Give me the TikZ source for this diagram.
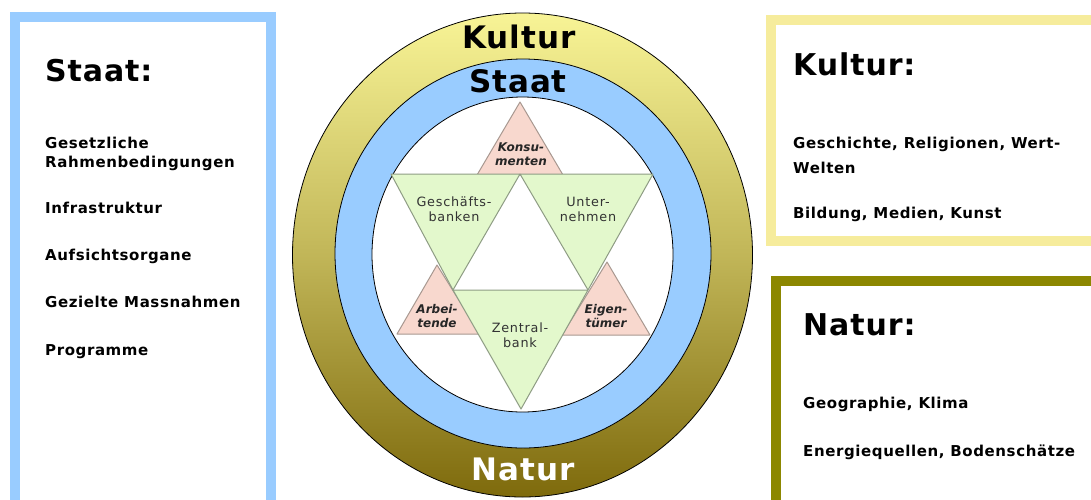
\documentclass[tikz,border=0pt]{standalone}
\usepackage{fontspec}
\setmainfont{DejaVu Sans}
\definecolor{staatblue}{HTML}{99CCFF}
\definecolor{kulturgelb}{HTML}{F6EC9C}
\definecolor{naturoliv}{HTML}{8C8700}
\definecolor{ringtop}{HTML}{F8F496}
\definecolor{ringbot}{HTML}{7E6A0C}
\definecolor{gruen}{HTML}{E3F8CC}
\definecolor{gruenrand}{HTML}{8E9C84}
\definecolor{rosa}{HTML}{F8D8CE}
\definecolor{rosarand}{HTML}{A89890}
\definecolor{dunkel}{HTML}{333333}
\tikzset{
  frame/.style={line width=10pt},
  title/.style={anchor=base west, inner sep=0pt,
    font=\bfseries\fontsize{30}{34}\selectfont\addfontfeature{LetterSpace=3}},
  item/.style={anchor=base west, inner sep=0pt,
    font=\bfseries\fontsize{15}{18}\selectfont\addfontfeature{LetterSpace=4}},
  ring/.style={anchor=base, inner sep=0pt,
    font=\bfseries\fontsize{31}{34}\selectfont\addfontfeature{LetterSpace=3}},
  greentri/.style={fill=gruen, draw=gruenrand, line width=1pt, line join=round},
  pinktri/.style={fill=rosa, draw=rosarand, line width=1pt, line join=round},
  gtext/.style={align=center, inner sep=0pt, text=dunkel,
    font=\fontsize{12.8}{15}\selectfont\addfontfeature{LetterSpace=6}},
  ptext/.style={align=center, inner sep=0pt, text=black!85,
    font=\bfseries\itshape\fontsize{12}{13.5}\selectfont},
}
\begin{document}
\begin{tikzpicture}[x=1pt,y=-1pt]
\clip (0,0) rectangle (1091,499);
\fill[white] (0,0) rectangle (1091,499);

% side frames
\draw[frame, staatblue] (15,520) -- (15,17) -- (270.5,17) -- (270.5,520);
\draw[frame, kulturgelb] (1110,20) -- (771,20) -- (771,241) -- (1110,241);
\draw[frame, naturoliv] (1110,281) -- (776,281) -- (776,520);

% Staat box
\node[title] (st) at (45,81) {Staat:};
\node[item] (st1a) at (45,148) {Gesetzliche};
\node[item] (st1b) at (45,167.5) {Rahmenbedingungen};
\node[item] (st2) at (45,213) {Infrastruktur};
\node[item] (st3) at (45,260) {Aufsichtsorgane};
\node[item] (st4) at (45,307.5) {Gezielte Massnahmen};
\node[item] (st5) at (45,355) {Programme};

% Kultur box
\node[title] (ku) at (793,75) {Kultur:};
\node[item] (ku1a) at (793,148) {Geschichte, Religionen, Wert-};
\node[item] (ku1b) at (793,173) {Welten};
\node[item] (ku2) at (793,218) {Bildung, Medien, Kunst};

% Natur box
\node[title] (na) at (803,335) {Natur:};
\node[item] (na1) at (803,408) {Geographie, Klima};
\node[item] (na2) at (803,456) {Energiequellen, Bodenschätze};

% nested rings
\shade[top color=ringtop, bottom color=ringbot, middle color=ringtop!55!ringbot]
  (522.5,255) ellipse [x radius=230, y radius=242];
\draw[black, line width=0.8pt] (522.5,255) ellipse [x radius=230, y radius=242];
\filldraw[fill=staatblue, draw=black, line width=0.8pt] (523,253.5) ellipse [x radius=188, y radius=194.5];
\filldraw[fill=white, draw=black, line width=0.8pt] (522.5,254.5) ellipse [x radius=150.5, y radius=157.5];

\node[ring] (rk) at (519,48) {Kultur};
\node[ring] (rs) at (518,92) {Staat};
\node[ring, text=white] (rn) at (523,480) {Natur};

% star vertices
\coordinate (a) at (391,174);
\coordinate (b) at (520,174);
\coordinate (c) at (653,174);
\coordinate (d) at (453,290);
\coordinate (e) at (588,290);
\coordinate (f) at (521,409);

% pink tips
\filldraw[pinktri] (477,175) -- (563,175) -- (520,102) -- cycle;
\filldraw[pinktri] (397,334) -- (480,334) -- (437,265) -- cycle;
\filldraw[pinktri] (562,335) -- (650,335) -- (607,262) -- cycle;

% green triangles
\filldraw[greentri] (a) -- (b) -- (d) -- cycle;
\filldraw[greentri] (b) -- (c) -- (e) -- cycle;
\filldraw[greentri] (d) -- (e) -- (f) -- cycle;

\node[gtext] (gb) at (454,209) {Geschäfts-\\banken};
\node[gtext] (un) at (588,209) {Unter-\\nehmen};
\node[gtext] (zb) at (520,335) {Zentral-\\bank};
\node[ptext] (ko) at (521,154) {Konsu-\\menten};
\node[ptext] (ar) at (437,316) {Arbei-\\tende};
\node[ptext] (ei) at (606,316) {Eigen-\\tümer};
\end{tikzpicture}
\end{document}
